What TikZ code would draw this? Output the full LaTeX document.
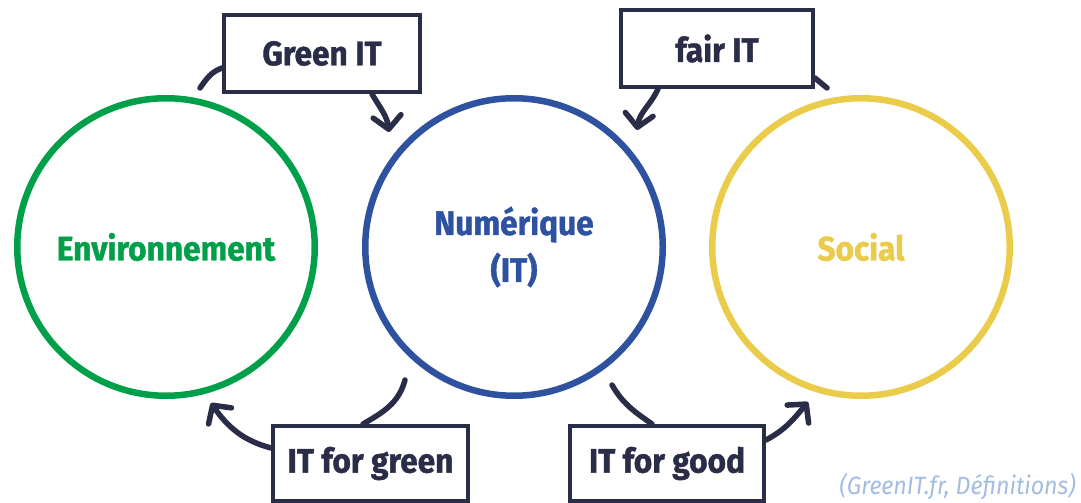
\documentclass[tikz,border=0pt]{standalone}
\usepackage{fontspec}
\setmainfont{Fira Sans}[FakeStretch=0.93,BoldFeatures={FakeBold=1.2}]
\usetikzlibrary{arrows.meta}
\definecolor{navy}{HTML}{2A2D47}
\definecolor{envgreen}{HTML}{00A04A}
\definecolor{numblue}{HTML}{2E52A0}
\definecolor{socyellow}{HTML}{EBCB4A}
\definecolor{capblue}{HTML}{A3BCE2}
\tikzset{
  ring/.style={circle, line width=6.5pt, minimum size=297.5pt, inner sep=0pt, font=\fontsize{34}{40}\selectfont\bfseries, align=center},
  labelbox/.style={draw=navy, line width=4pt, fill=white, inner sep=0pt, text=navy, font=\fontsize{34}{40}\selectfont\bfseries},
  conn/.style={draw=navy, line width=5.5pt, line cap=round},
  arr/.style={conn, -{Straight Barb[length=13pt,width=28pt,line cap=round,line join=round]}}
}
\begin{document}
\begin{tikzpicture}[x=1pt,y=1pt]
\useasboundingbox (0,0) rectangle (1081,503);
% circles
\node[ring, draw=envgreen, text=envgreen] (env) at (166,256) {Environnement};
\node[ring, draw=numblue, text=numblue] (num) at (514,256) {Numérique\\[7pt](IT)};
\node[ring, draw=socyellow, text=socyellow] (soc) at (861,256) {Social};
% boxes
\node[labelbox, minimum width=196pt, minimum height=77pt] (greenit) at (322,449.5) {Green IT};
\node[labelbox, minimum width=192pt, minimum height=77pt] (fairit) at (717,454.5) {fair IT};
\node[labelbox, minimum width=195pt, minimum height=75pt] (itgreen) at (370.5,39.5) {IT for green};
\node[labelbox, minimum width=194pt, minimum height=75pt] (itgood) at (667,39.5) {IT for good};
% free ends
\coordinate (g1) at (200,415);
\coordinate (g2) at (389,371);
\coordinate (f1) at (637,373);
\coordinate (f2) at (827,415);
\coordinate (b1) at (405,123);
\coordinate (b2) at (211,100);
\coordinate (d1) at (612,118);
\coordinate (d2) at (808,101);
% connectors
\draw[conn] (g1) to[out=55,in=200] (greenit.west |- 0,435);
\draw[arr] (greenit.south -| 372,0) to[out=-60,in=97] (g2);
\draw[arr] (fairit.south -| 658,0) to[out=-115,in=82] (f1);
\draw[conn] (fairit.east |- 0,425) to[out=-40,in=140] (f2);
\draw[conn] (b1) to[out=-105,in=30] (itgreen.north -| 363,0);
\draw[arr] (itgreen.west |- 0,55) to[out=165,in=-55] (b2);
\draw[conn] (d1) to[out=-60,in=145] (itgood.north -| 652,0);
\draw[arr] (itgood.east |- 0,63) to[out=28,in=-130] (d2);
% caption
\node[anchor=east, text=capblue, font=\fontsize{25}{28}\selectfont\itshape, inner sep=0pt] (cap) at (1076,16) {(GreenIT.fr, Définitions)};
\end{tikzpicture}
\end{document}
